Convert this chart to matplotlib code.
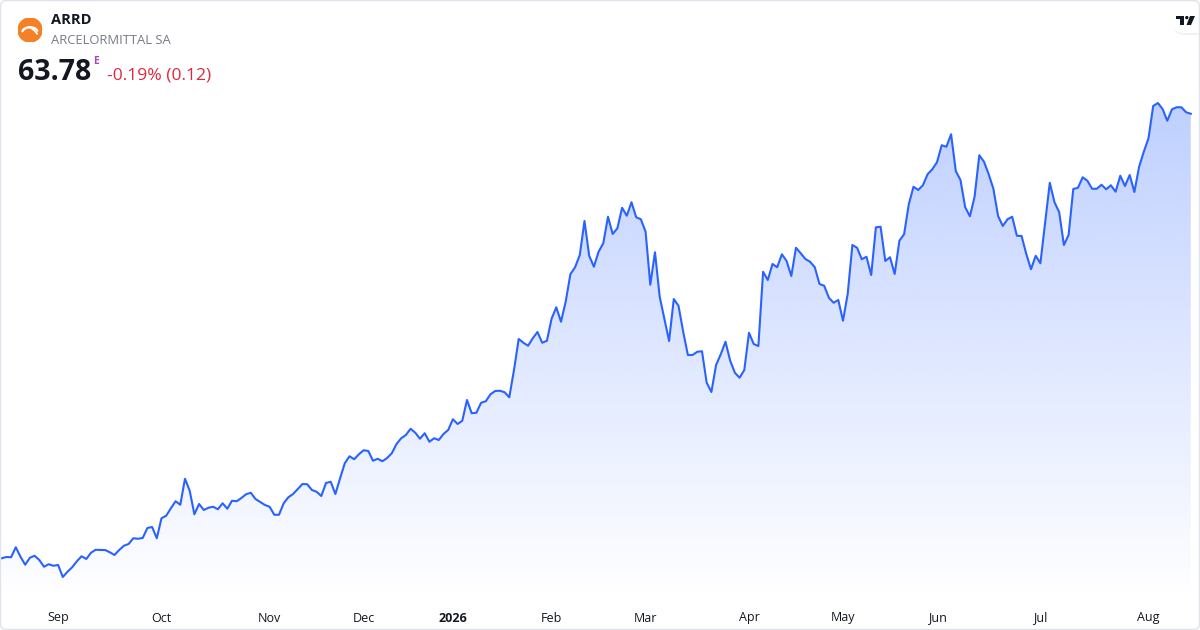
import numpy as np
import matplotlib
matplotlib.use("Agg")
import matplotlib.pyplot as plt
from matplotlib.patches import FancyBboxPatch, Circle, Polygon
from matplotlib.transforms import blended_transform_factory, IdentityTransform
from matplotlib.colors import to_rgb

plt.rcParams['font.family'] = ['Open Sans', 'DejaVu Sans']

SYMBOL = "ARRD"
NAME = "ARCELORMITTAL SA"
LAST = "63.78"
CHANGE = "-0.19% (0.12)"

# daily closes (EUR)
prices = [
    28.22, 28.32, 28.30, 29.10, 28.34, 27.70, 28.26, 28.42, 28.08, 27.54,
    27.74, 27.62, 27.68, 26.72, 27.14, 27.50, 27.98, 28.38, 28.16, 28.66,
    28.90, 28.88, 28.88, 28.70, 28.48, 28.88, 29.22, 29.36, 29.82, 29.78,
    29.84, 30.64, 30.72, 29.82, 31.42, 31.62, 32.22, 32.78, 32.50, 34.58,
    33.62, 31.74, 32.56, 32.08, 32.26, 32.34, 32.14, 32.62, 32.18, 32.82,
    32.78, 33.04, 33.34, 33.46, 32.96, 32.72, 32.48, 32.34, 31.70, 31.70,
    32.62, 33.10, 33.36, 33.76, 34.16, 34.14, 33.68, 33.54, 33.20, 34.24,
    34.34, 33.36, 34.62, 35.82, 36.38, 36.14, 36.54, 36.86, 36.80, 36.02,
    36.18, 35.98, 36.24, 36.62, 37.36, 37.82, 38.08, 38.58, 38.26, 37.78,
    38.22, 37.54, 37.82, 37.68, 38.16, 38.48, 39.34, 38.96, 39.22, 40.88,
    39.82, 39.86, 40.66, 40.78, 41.34, 41.60, 41.62, 41.50, 41.10, 43.28,
    45.76, 45.46, 45.22, 45.82, 46.32, 45.46, 45.62, 47.38, 48.30, 47.14,
    48.74, 50.94, 51.50, 52.48, 55.20, 52.42, 51.54, 52.74, 53.42, 55.54,
    54.16, 54.62, 56.26, 55.62, 56.70, 55.50, 55.34, 54.34, 50.10, 52.70,
    49.14, 47.36, 45.60, 48.96, 48.42, 46.34, 44.48, 44.48, 44.74, 44.78,
    42.26, 41.52, 43.68, 44.54, 45.54, 44.02, 43.06, 42.66, 43.28, 46.26,
    45.36, 45.20, 51.14, 50.48, 51.76, 51.50, 52.54, 52.00, 50.80, 53.06,
    52.62, 52.16, 51.94, 51.50, 50.16, 50.02, 49.06, 48.66, 48.88, 47.22,
    49.36, 53.28, 53.06, 52.14, 52.34, 50.88, 54.70, 54.74, 52.00, 52.30,
    50.96, 53.62, 54.14, 56.54, 57.94, 57.68, 58.06, 58.94, 59.34, 59.90,
    61.26, 61.14, 62.14, 59.20, 58.48, 56.30, 55.58, 57.14, 60.46, 59.94,
    58.94, 57.78, 55.60, 54.80, 55.34, 55.54, 54.02, 54.00, 52.56, 51.34,
    52.42, 51.82, 55.02, 58.26, 56.70, 55.90, 53.28, 54.08, 57.76, 57.86,
    58.70, 58.42, 57.78, 57.78, 58.10, 57.74, 58.06, 57.54, 58.82, 58.00,
    58.88, 57.52, 59.54, 60.74, 61.82, 64.40, 64.64, 64.16, 63.22, 64.14,
    64.30, 64.30, 63.90, 63.78,
]

months = ["Sep", "Oct", "Nov", "Dec", "2026", "Feb", "Mar", "Apr", "May", "Jun", "Jul", "Aug"]
month_idx = [12, 34, 57, 77, 96, 117, 137, 159, 179, 199, 221, 244]

W, H = 1200, 630
blue = "#2962ff"

fig = plt.figure(figsize=(W / 100, H / 100), dpi=100)
fig.patch.set_facecolor("white")

ax = fig.add_axes([0, 30 / H, 1, 600 / H])
x = np.arange(len(prices))
lo, hi = 24.88, 72.88

# gradient area under the line
poly = ax.fill_between(x, prices, lo, color="none", lw=0)
grad = np.zeros((256, 1, 4))
grad[..., :3] = to_rgb(blue)
grad[:, 0, 3] = np.linspace(0.30, 0.0, 256)
im = ax.imshow(grad, extent=[x[0], x[-1], lo, max(prices)], aspect="auto",
               origin="upper", zorder=1, interpolation="bilinear")
im.set_clip_path(poly.get_paths()[0], transform=ax.transData)

ax.plot(x, prices, color=blue, lw=1.5, solid_joinstyle="round", zorder=3)
ax.set_xlim(-0.36, 254.96)
ax.set_ylim(lo, hi)
ax.axis("off")

tr = blended_transform_factory(ax.transData, fig.transFigure)
for m, i in zip(months, month_idx):
    ax.text(i, 1 - 618 / H, m, transform=tr, ha="center", va="center",
            fontsize=9, color="#131722",
            fontweight="bold" if m == "2026" else "normal")

# header
def fy(py):
    return 1 - py / H

logo = fig.add_axes([18 / W, fy(42), 24 / W, 24 / H])
logo.set_xlim(-1, 1)
logo.set_ylim(-1, 1)
logo.axis("off")
logo.add_patch(Circle((0, 0), 1, color="#f58025"))
t = np.linspace(0.12 * np.pi, 0.92 * np.pi, 40)
logo.plot(0.65 * np.cos(t), 0.45 * np.sin(t) - 0.22, color="white", lw=1.7,
          solid_capstyle="round")
logo.plot([-0.05, 0.35, 0.6], [0.25, -0.02, -0.32], color="white", lw=1.3,
          solid_capstyle="round")

fig.text(51 / W, fy(20), SYMBOL, fontsize=10.5, fontweight="bold",
         color="#131722", va="center", ha="left")
fig.text(51 / W, fy(41), NAME, fontsize=9.4, color="#787b86",
         va="center", ha="left")
fig.text(18 / W, fy(73), LAST, fontsize=20.5, fontweight="bold",
         color="#131722", va="center", ha="left")
fig.text(93 / W, fy(62), "E", fontsize=7.5, fontweight="bold",
         color="#ab47bc", va="center", ha="left")
fig.text(107 / W, fy(76), CHANGE, fontsize=12.6, color="#e0283d",
         va="center", ha="left")

# tradingview badge
fig.patches.append(FancyBboxPatch((1173, H - 35), 45, 26,
                                  boxstyle="round,pad=0,rounding_size=12",
                                  transform=IdentityTransform(), facecolor="#f0f1f4",
                                  edgecolor="none", figure=fig))
fig.patches.append(FancyBboxPatch((1172, H - 33), 45, 24,
                                  boxstyle="round,pad=0,rounding_size=12",
                                  transform=IdentityTransform(), facecolor="white",
                                  edgecolor="none", figure=fig))
tv_parts = [
    [(1176, 16), (1184, 16), (1184, 19), (1176, 19)],
    [(1180, 16), (1183.5, 16), (1183.5, 25), (1180, 25)],
    [(1190, 16), (1195, 16), (1191, 25), (1186.5, 25)],
]
for part in tv_parts:
    fig.patches.append(Polygon([(px, H - py) for px, py in part], closed=True,
                               transform=IdentityTransform(), facecolor="#131722",
                               edgecolor="none", figure=fig))
fig.patches.append(Circle((1186.8, H - 17.6), 1.7, transform=IdentityTransform(),
                          facecolor="#131722", edgecolor="none", figure=fig))

# card border
fig.patches.append(FancyBboxPatch((0.5, 0.5), W - 1, H - 1,
                                  boxstyle="round,pad=0,rounding_size=6",
                                  transform=IdentityTransform(), facecolor="none",
                                  edgecolor="#e0e3eb", lw=1, figure=fig))

fig.savefig("out.png", dpi=100)
